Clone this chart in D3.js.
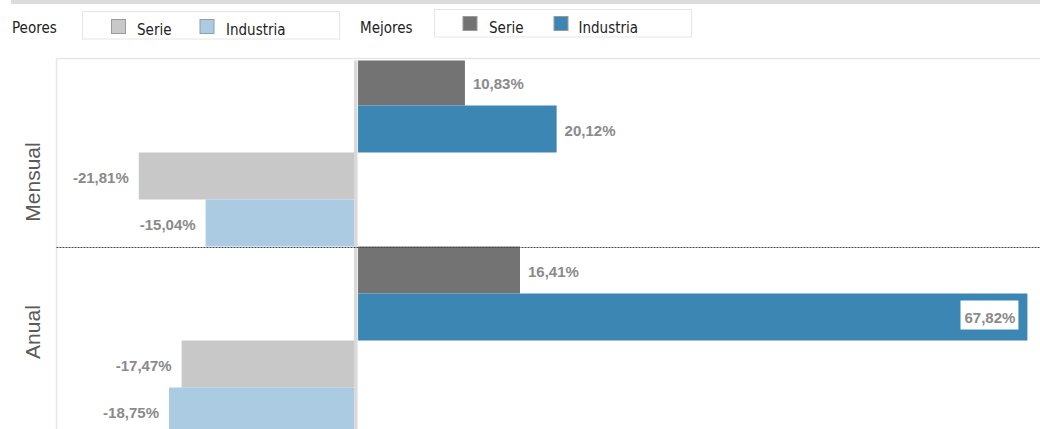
<!DOCTYPE html>
<html>
<head>
<meta charset="utf-8">
<script src="https://cdn.jsdelivr.net/npm/d3@7/dist/d3.min.js"></script>
<style>
  html, body { margin: 0; padding: 0; background: #fff; }
  svg { display: block; }
</style>
</head>
<body>
<svg id="chart" width="1040" height="429"></svg>
<script>
// ---------------- DATA ----------------
const categories = ["Mensual", "Anual"];
const series = ["Mejores Serie", "Mejores Industria", "Peores Serie", "Peores Industria"];
const mensualValues = [10.83, 20.12, -21.81, -15.04];
const anualValues = [16.41, 67.82, -17.47, -18.75];
const seriesColors = ["#737373", "#3c86b4", "#c8c8c8", "#abcbe3"];
const legendGroups = ["Peores", "Mejores"];
const legendItems = ["Serie", "Industria"];
const legendPeoresColors = ["#c8c8c8", "#abcbe3"];
const legendMejoresColors = ["#737373", "#3c86b4"];

// ---------------- LAYOUT ----------------
const W = 1040, H = 429;
const plotLeft = 56.5, plotTop = 58.5;
const svg = d3.select("#chart");

const x = d3.scaleLinear().domain([-30.3, 69.3]).range([57, 1040]);
const zeroGap = 2;

const y = d3.scaleBand().domain(categories).range([58.5, 434.5]);
const ySub = d3.scaleBand().domain(series).range([0, y.bandwidth()]);

const locale = d3.formatLocale({decimal: ",", thousands: ".", grouping: [3], currency: ["", "€"], minus: "-"});
const fmt = v => locale.format(".2f")(v) + "%";

const rows = [];
categories.forEach((c, ci) => {
  const vals = ci === 0 ? mensualValues : anualValues;
  series.forEach((s, si) => rows.push({cat: c, series: s, value: vals[si], color: seriesColors[si]}));
});

// top gray band
svg.append("rect").attr("x", 11).attr("y", 0).attr("width", W - 11).attr("height", 4).attr("fill", "#dcdcdc");

// ---------------- LEGEND ----------------
const legendFont = "'DejaVu Sans Condensed', 'DejaVu Sans', sans-serif";
const legendDefs = [
  {title: legendGroups[0], titleX: 12, boxX: 82.5, boxY: 11.5, colors: legendPeoresColors, sw: [111, 199.5], tx: [137, 226], swY: 19, base: 35},
  {title: legendGroups[1], titleX: 360, boxX: 434.5, boxY: 9.5, colors: legendMejoresColors, sw: [462.5, 553.5], tx: [489, 578.5], swY: 16, base: 33.3}
];
legendDefs.forEach(L => {
  const g = svg.append("g");
  g.append("text").attr("x", L.titleX).attr("y", 33.3).text(L.title)
    .attr("font-family", legendFont).attr("font-stretch", "condensed").attr("font-size", 15).attr("fill", "#222");
  g.append("rect").attr("x", L.boxX).attr("y", L.boxY).attr("width", 257).attr("height", 27.5)
    .attr("fill", "#fff").attr("stroke", "#e6e6e6").attr("stroke-width", 1);
  legendItems.forEach((it, i) => {
    g.append("rect").attr("x", L.sw[i] + 0.5).attr("y", L.swY + 0.5).attr("width", 14).attr("height", 14)
      .attr("fill", L.colors[i]).attr("stroke", "#9a9a9a").attr("stroke-width", 1);
    g.append("text").attr("x", L.tx[i]).attr("y", L.base).text(it)
      .attr("font-family", legendFont).attr("font-stretch", "condensed").attr("font-size", 15).attr("fill", "#222");
  });
});

// ---------------- PLOT ----------------
svg.append("defs").append("clipPath").attr("id", "plotClip")
  .append("rect").attr("x", plotLeft).attr("y", 60.5).attr("width", W - plotLeft).attr("height", H - 60.5);

// frame
svg.append("line").attr("x1", plotLeft).attr("x2", W).attr("y1", plotTop).attr("y2", plotTop)
  .attr("stroke", "#e6e6e6").attr("stroke-width", 1.5);
svg.append("line").attr("x1", plotLeft).attr("x2", plotLeft).attr("y1", plotTop).attr("y2", H)
  .attr("stroke", "#e6e6e6").attr("stroke-width", 1.5);

const plot = svg.append("g").attr("clip-path", "url(#plotClip)");

const barX0 = d => d.value < 0 ? x(d.value) - zeroGap : x(0) + zeroGap;
const barX1 = d => d.value < 0 ? x(0) - zeroGap : x(d.value) + zeroGap;
const barY = d => y(d.cat) + ySub(d.series);

plot.selectAll("rect.bar").data(rows).join("rect").attr("class", "bar")
  .attr("x", d => barX0(d)).attr("width", d => barX1(d) - barX0(d))
  .attr("y", d => barY(d)).attr("height", ySub.bandwidth())
  .attr("fill", d => d.color);

// zero line
plot.append("rect").attr("x", x(0) - zeroGap).attr("width", 3.5).attr("y", plotTop).attr("height", H - plotTop)
  .attr("fill", "#d9d9d9");

// separator dotted line
categories.slice(1).forEach(c => {
  svg.append("line").attr("x1", plotLeft).attr("x2", W).attr("y1", Math.round(y(c)) + 0.5).attr("y2", Math.round(y(c)) + 0.5)
    .attr("stroke", "#444").attr("stroke-width", 1.2).attr("stroke-dasharray", "2,1");
});

// value labels
const labelFont = "'Liberation Sans', Arial, sans-serif";
rows.forEach(d => {
  const cy = barY(d) + ySub.bandwidth() / 2;
  const t = svg.append("text").text(fmt(d.value))
    .attr("font-family", labelFont).attr("font-weight", "bold").attr("font-size", 15).attr("fill", "#8a8a8a")
    .attr("y", cy + 7);
  if (d.value < 0) {
    t.attr("text-anchor", "end").attr("x", barX0(d) - 10);
  } else {
    const tw = t.node().getComputedTextLength();
    const outsideX = barX1(d) + 8;
    if (outsideX + tw > W - 5) {
      const tx = barX1(d) - 12;
      t.attr("text-anchor", "end").attr("x", tx).attr("y", cy + 6);
      svg.insert("rect", () => t.node())
        .attr("x", tx - tw - 4).attr("y", cy - 16.5).attr("width", tw + 7).attr("height", 29).attr("fill", "#fff");
    } else {
      t.attr("text-anchor", "start").attr("x", outsideX);
    }
  }
});

// row labels
const rowLabelPos = {Mensual: 0.657, Anual: 0.455};
categories.forEach(c => {
  const cy = y(c) + y.bandwidth() * rowLabelPos[c];
  svg.append("text").text(c)
    .attr("transform", `translate(40,${cy}) rotate(-90)`)
    .attr("text-anchor", "middle")
    .attr("font-family", labelFont).attr("font-size", 21).attr("fill", "#5a5a5a");
});
</script>
</body>
</html>
